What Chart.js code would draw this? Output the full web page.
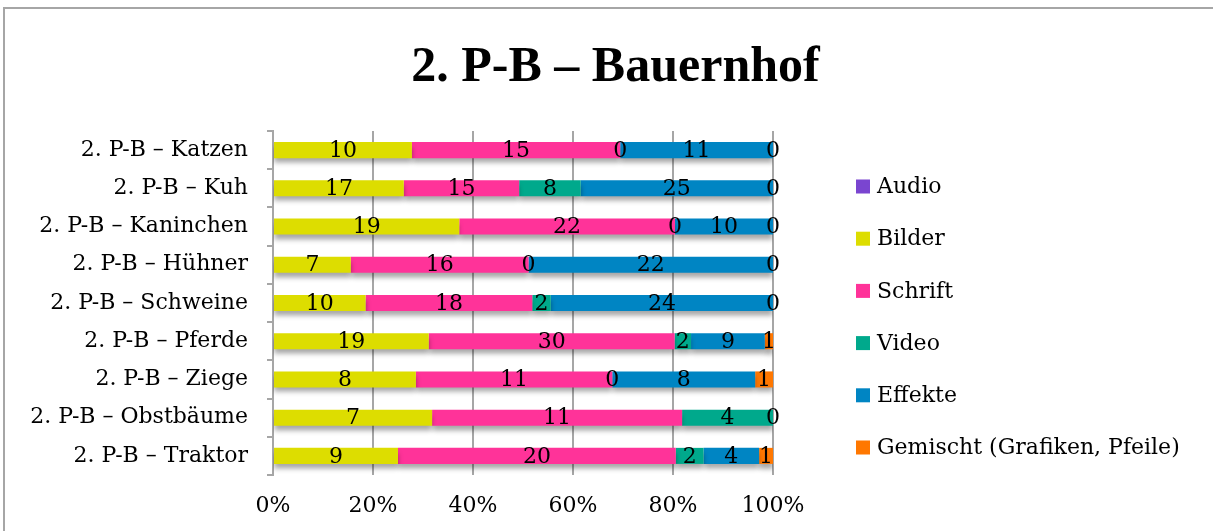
<!DOCTYPE html>
<html>
<head>
<meta charset="utf-8">
<script src="https://cdn.jsdelivr.net/npm/chart.js@4"></script>
<style>
	html, body { margin: 0; padding: 0; background: #fff; }
	#wrap { position: relative; width: 1213px; height: 531px; overflow: hidden; }
	#frame { position: absolute; left: 3px; top: 7px; width: 1300px; height: 600px; border: 2px solid #a6a6a6; box-sizing: border-box; }
	canvas { position: absolute; left: 0; top: 0; }
</style>
</head>
<body>
<div id="wrap">
	<div id="frame"></div>
	<canvas id="chart" width="1213" height="537"></canvas>
</div>
<script>
// Kategorien (von oben nach unten)
var categories = [
	'2. P-B – Katzen',
	'2. P-B – Kuh',
	'2. P-B – Kaninchen',
	'2. P-B – Hühner',
	'2. P-B – Schweine',
	'2. P-B – Pferde',
	'2. P-B – Ziege',
	'2. P-B – Obstbäume',
	'2. P-B – Traktor'
];

// Anzahl pro Kategorie
var audio    = [null, null, null, null, null, null, null, null, null];
var bilder   = [10, 17, 19, 7, 10, 19, 8, 7, 9];
var schrift  = [15, 15, 22, 16, 18, 30, 11, 11, 20];
var video    = [0, 8, 0, 0, 2, 2, 0, 4, 2];
var effekte  = [11, 25, 10, 22, 24, 9, 8, null, 4];
var gemischt = [0, 0, 0, 0, 0, 1, 1, 0, 1];

var xTicks = [0, 20, 40, 60, 80, 100];

var series = [
	{ label: 'Audio', values: audio, color: '#7a45d0' },
	{ label: 'Bilder', values: bilder, color: '#dddd00' },
	{ label: 'Schrift', values: schrift, color: '#ff3399' },
	{ label: 'Video', values: video, color: '#00a98c' },
	{ label: 'Effekte', values: effekte, color: '#0085c3' },
	{ label: 'Gemischt (Grafiken, Pfeile)', values: gemischt, color: '#ff7700' }
];

var fontFamily = '"DejaVu Serif", "Liberation Serif", serif';
var titleFont = '"Liberation Serif", serif';

// Summe je Kategorie für 100%-Stapel
var totals = categories.map((c, i) => {
	var sum = 0;
	series.forEach(s => { if(s.values[i] != null) sum += s.values[i]; });
	return sum;
});

var datasets = series.map(s => ({
	label: s.label,
	raw: s.values,
	data: s.values.map((v, i) => v == null ? null : v / totals[i] * 100),
	backgroundColor: s.color,
	borderWidth: 0,
	categoryPercentage: 0.84,
	barPercentage: 0.5,
}));

// weicher Schatten unter den Balken
var barShadow = {
	id: 'barShadow',
	beforeDatasetsDraw(chart){
		var ctx = chart.ctx;
		ctx.save();
		ctx.shadowColor = 'rgba(0,0,0,0.35)';
		ctx.shadowBlur = 5;
		ctx.shadowOffsetX = 0;
		ctx.shadowOffsetY = 5;
	},
	afterDatasetsDraw(chart){
		chart.ctx.restore();
	}
};

// Werte in die Balken schreiben
var valueLabels = {
	id: 'valueLabels',
	afterDatasetsDraw(chart){
		var ctx = chart.ctx;
		ctx.save();
		ctx.font = '22px ' + fontFamily;
		ctx.fillStyle = '#000';
		ctx.textAlign = 'center';
		ctx.textBaseline = 'middle';
		chart.data.datasets.forEach((ds, di) => {
			var meta = chart.getDatasetMeta(di);
			meta.data.forEach((bar, i) => {
				var v = ds.raw[i];
				if(v == null) return;
				ctx.fillText(String(v), (bar.x + bar.base) / 2, bar.y + 1);
			});
		});
		ctx.restore();
	}
};

// Legende rechts
var sideLegend = {
	id: 'sideLegend',
	afterDraw(chart){
		var ctx = chart.ctx;
		ctx.save();
		ctx.font = '22px ' + fontFamily;
		ctx.textBaseline = 'middle';
		ctx.textAlign = 'left';
		chart.data.datasets.forEach((ds, i) => {
			var y = 186.5 + i * 52.2;
			ctx.fillStyle = ds.backgroundColor;
			ctx.fillRect(856, y - 7, 14, 14);
			ctx.fillStyle = '#000';
			ctx.fillText(ds.label, 877, y + 1);
		});
		ctx.restore();
	}
};

chart = new Chart(document.getElementById('chart'), {
	type: 'bar',
	data: {
		labels: categories,
		datasets: datasets
	},
	options: {
		indexAxis: 'y',
		responsive: false,
		animation: false,
		layout: {
			padding: { left: 18, right: 0, top: 0, bottom: 0 }
		},
		plugins: {
			legend: { display: false },
			tooltip: { enabled: false },
			title: {
				display: true,
				text: '2. P-B – Bauernhof',
				color: '#000',
				font: { family: titleFont, size: 50, weight: 'bold' },
				padding: { top: 38, bottom: 33 }
			}
		},
		scales: {
			x: {
				stacked: true,
				min: 0,
				max: 100,
				afterBuildTicks: (scale) => { scale.ticks = xTicks.map(v => ({ value: v })); },
				afterFit: (scale) => { scale.paddingRight = 440; },
				ticks: {
					callback: v => v + '%',
					color: '#000',
					padding: 20,
					font: { family: fontFamily, size: 22, lineHeight: 1.0 }
				},
				grid: { color: '#a6a6a6', lineWidth: 2, drawTicks: false },
				border: { display: false }
			},
			y: {
				stacked: true,
				afterFit: (scale) => { scale.width = 255; },
				ticks: {
					color: '#000',
					padding: 19,
					font: { family: fontFamily, size: 22 }
				},
				grid: { offset: true, drawOnChartArea: false, color: '#a6a6a6', lineWidth: 2, tickLength: 6 },
				border: { color: '#a6a6a6', width: 2 }
			}
		}
	},
	plugins: [barShadow, valueLabels, sideLegend]
});
</script>
</body>
</html>
